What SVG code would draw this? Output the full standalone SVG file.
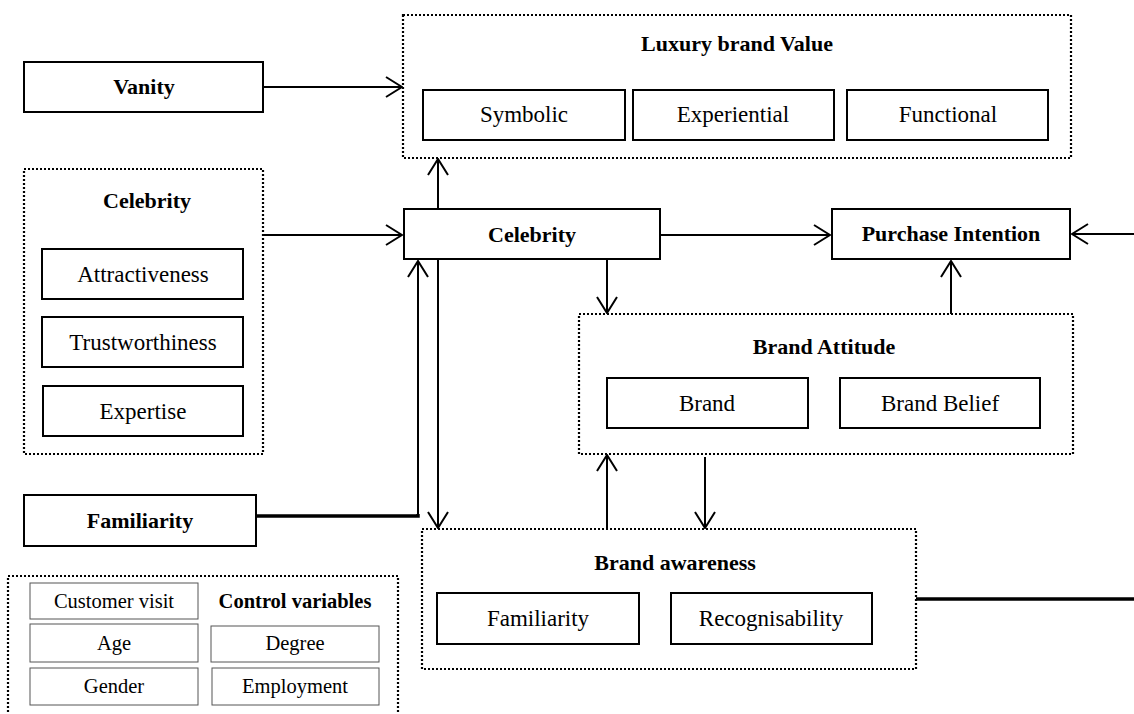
<svg xmlns="http://www.w3.org/2000/svg" width="1134" height="714" viewBox="0 0 1134 714">
<defs>
<marker id="arr" markerUnits="userSpaceOnUse" viewBox="0 0 18 22" refX="17" refY="11" markerWidth="18" markerHeight="22" orient="auto">
<path d="M1,1 L17,11 L1,21" fill="none" stroke="#000" stroke-width="2"/>
</marker>
<style>
.box{fill:#fff;stroke:#000;stroke-width:2}
.dot{fill:#fff;stroke:#000;stroke-width:2.2;stroke-dasharray:2 2}
.thin{fill:#fff;stroke:#555;stroke-width:1}
.t{font-family:"Liberation Serif",serif;font-size:23px;text-anchor:middle;fill:#000}
.b{font-weight:bold;font-size:22px}
.s{font-size:20.5px}
.ln{fill:none;stroke:#000;stroke-width:2}
.thk{fill:none;stroke:#000;stroke-width:3.5}
</style>
</defs>
<rect width="1134" height="714" fill="#fff"/>

<g id="luxury">
<rect class="dot" x="403" y="15" width="668" height="143"/>
<text class="t b" x="737" y="51">Luxury brand Value</text>
<rect class="box" x="423" y="90" width="202" height="50"/>
<text class="t" x="524" y="122">Symbolic</text>
<rect class="box" x="633" y="90" width="201" height="50"/>
<text class="t" x="733" y="122">Experiential</text>
<rect class="box" x="847" y="90" width="201" height="50"/>
<text class="t" x="948" y="122">Functional</text>
</g>

<g id="vanity">
<rect class="box" x="24" y="62" width="239" height="50"/>
<text class="t b" x="144" y="94">Vanity</text>
</g>

<g id="celebrity-group">
<rect class="dot" x="24" y="169" width="239" height="285"/>
<text class="t b" x="147" y="208">Celebrity</text>
<rect class="box" x="42" y="249" width="201" height="50"/>
<text class="t" x="143" y="282">Attractiveness</text>
<rect class="box" x="42" y="317" width="201" height="50"/>
<text class="t" x="143" y="350">Trustworthiness</text>
<rect class="box" x="43" y="386" width="200" height="50"/>
<text class="t" x="143" y="419">Expertise</text>
</g>

<g id="celebrity">
<rect class="box" x="404" y="209" width="256" height="50"/>
<text class="t b" x="532" y="242">Celebrity</text>
</g>

<g id="purchase">
<rect class="box" x="832" y="209" width="238" height="50"/>
<text class="t b" x="951" y="241">Purchase Intention</text>
</g>

<g id="brand-attitude">
<rect class="dot" x="579" y="314" width="494" height="140"/>
<text class="t b" x="824" y="354">Brand Attitude</text>
<rect class="box" x="607" y="378" width="201" height="50"/>
<text class="t" x="707" y="411">Brand</text>
<rect class="box" x="840" y="378" width="200" height="50"/>
<text class="t" x="940" y="411">Brand Belief</text>
</g>

<g id="familiarity">
<rect class="box" x="24" y="495" width="232" height="51"/>
<text class="t b" x="140" y="528">Familiarity</text>
</g>

<g id="brand-awareness">
<rect class="dot" x="422" y="529" width="494" height="140"/>
<text class="t b" x="675" y="570">Brand awareness</text>
<rect class="box" x="437" y="593" width="202" height="51"/>
<text class="t" x="538" y="626">Familiarity</text>
<rect class="box" x="671" y="593" width="201" height="51"/>
<text class="t" x="771" y="626">Recognisability</text>
</g>

<g id="control-variables">
<rect class="dot" x="8" y="576" width="390" height="160"/>
<rect class="thin" x="30" y="583" width="168" height="36"/>
<text class="t s" x="114" y="608">Customer visit</text>
<text class="t s b" x="295" y="608" style="font-size:20.5px">Control variables</text>
<rect class="thin" x="30" y="624" width="168" height="38"/>
<text class="t s" x="114" y="650">Age</text>
<rect class="thin" x="211" y="626" width="168" height="36"/>
<text class="t s" x="295" y="650">Degree</text>
<rect class="thin" x="30" y="668" width="168" height="37"/>
<text class="t s" x="114" y="693">Gender</text>
<rect class="thin" x="212" y="668" width="167" height="37"/>
<text class="t s" x="295" y="693">Employment</text>
</g>

<g id="connectors">
<line class="ln" x1="263" y1="87" x2="402" y2="87" marker-end="url(#arr)"/>
<line class="ln" x1="263" y1="235" x2="402" y2="235" marker-end="url(#arr)"/>
<line class="ln" x1="438" y1="209" x2="438" y2="159" marker-end="url(#arr)"/>
<line class="ln" x1="660" y1="235" x2="830" y2="235" marker-end="url(#arr)"/>
<line class="ln" x1="1134" y1="234" x2="1072" y2="234" marker-end="url(#arr)"/>
<line class="ln" x1="607" y1="260" x2="607" y2="313" marker-end="url(#arr)"/>
<line class="ln" x1="951" y1="314" x2="951" y2="261" marker-end="url(#arr)"/>
<line class="ln" x1="438" y1="260" x2="438" y2="528" marker-end="url(#arr)"/>
<polyline class="thk" points="256,516 418,516 418,514"/>
<line class="ln" x1="418" y1="517" x2="418" y2="261" marker-end="url(#arr)"/>
<line class="ln" x1="607" y1="529" x2="607" y2="455" marker-end="url(#arr)"/>
<line class="ln" x1="705" y1="457" x2="705" y2="528" marker-end="url(#arr)"/>
<line class="thk" x1="916" y1="599" x2="1134" y2="599"/>
</g>
</svg>
